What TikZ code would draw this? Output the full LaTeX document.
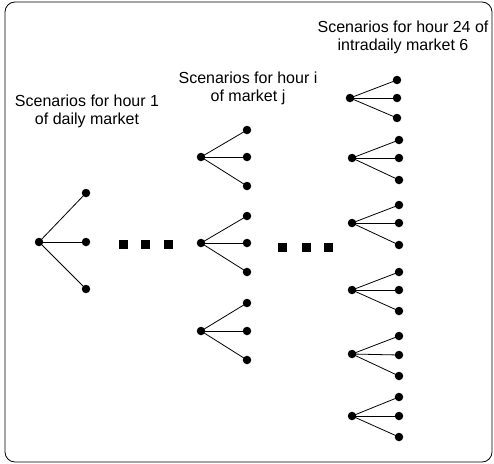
\documentclass[tikz,border=0pt]{standalone}
\usepackage{fontspec}
\setmainfont{Liberation Sans}
\begin{document}
\begin{tikzpicture}[x=1pt,y=-1pt,
  dot/.style={circle,fill=black,inner sep=0pt,minimum size=8.5pt},
  sq/.style={rectangle,fill=black,inner sep=0pt,minimum size=9pt},
  edge/.style={draw=black,line width=0.8pt},
  lbl/.style={align=center,inner sep=0pt,font=\fontsize{16}{18}\selectfont}]
\useasboundingbox (0,0) rectangle (494,463);
\draw[line width=0.8pt,rounded corners=10pt] (5,2) rectangle (492,462);
% labels
\node[lbl] (t1) at (87,111) {Scenarios for hour 1\\of daily market};
\node[lbl] (t2) at (248,88) {Scenarios for hour i\\of market j};
\node[lbl] (t3) at (403,37) {Scenarios for hour 24 of\\intradaily market 6};
% left tree
\node[dot] (a) at (39,242) {};
\node[dot] (a1) at (86,193) {};
\node[dot] (a2) at (86,242) {};
\node[dot] (a3) at (86,289) {};
\foreach \l in {a1,a2,a3} \draw[edge] (a.center) -- (\l.center);
% middle trees
\foreach \n/\ry/\ya/\yb/\yc in {b/157/130/157/186, c/243/216/243/272, d/331/303/331/360}{
  \node[dot] (\n) at (201,\ry) {};
  \node[dot] (\n1) at (247,\ya) {};
  \node[dot] (\n2) at (247,\yb) {};
  \node[dot] (\n3) at (247,\yc) {};
  \foreach \l in {1,2,3} \draw[edge] (\n.center) -- (\n\l.center);
}
% right trees
\foreach \n/\rx/\lx/\ry/\ya/\yb/\yc in {e/350/397/98/80/98/118, f/352/399/158/140/158/180, g/352/399/223/205/223/245, h/352/399/290/272/290/311, k/352/399/354/336/355/376, m/352/399/416/397/416/437}{
  \node[dot] (\n) at (\rx,\ry) {};
  \node[dot] (\n1) at (\lx,\ya) {};
  \node[dot] (\n2) at (\lx,\yb) {};
  \node[dot] (\n3) at (\lx,\yc) {};
  \foreach \l in {1,2,3} \draw[edge] (\n.center) -- (\n\l.center);
}
% ellipsis squares
\node[sq] (s1) at (123,244) {};
\node[sq] (s2) at (145,244) {};
\node[sq] (s3) at (168,244) {};
\node[sq] (s4) at (282,247) {};
\node[sq] (s5) at (306,247) {};
\node[sq] (s6) at (328,247) {};
\end{tikzpicture}
\end{document}
